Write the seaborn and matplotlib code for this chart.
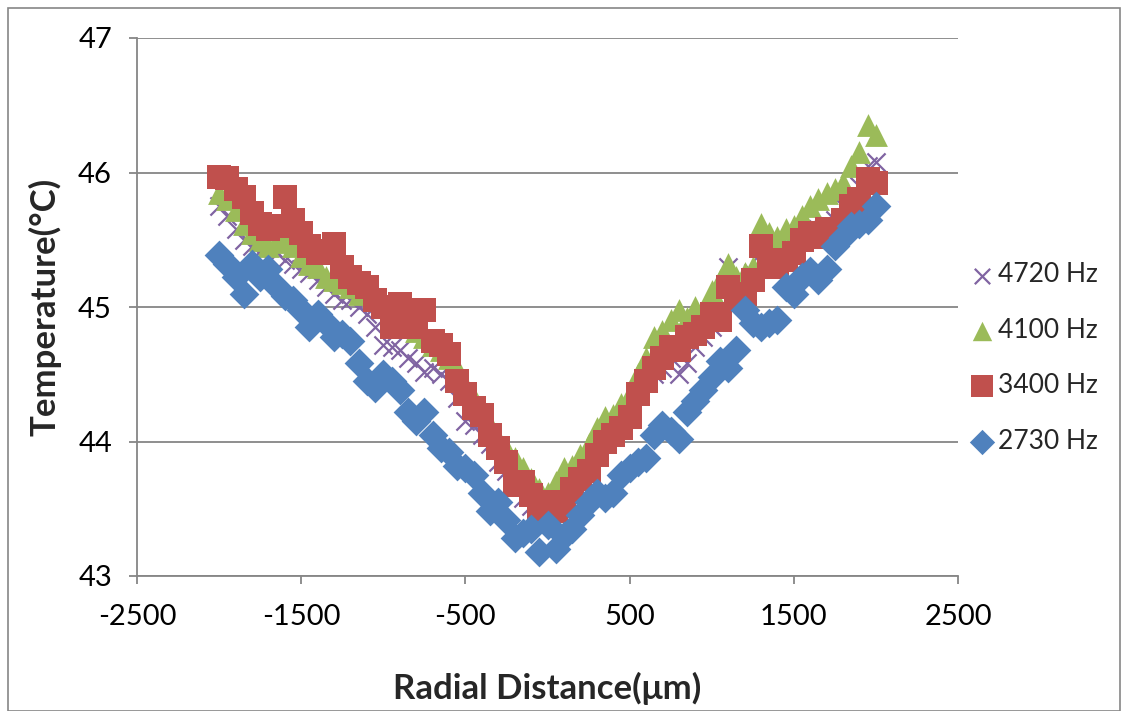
import numpy as np
import pandas as pd
import matplotlib
matplotlib.use("Agg")
import matplotlib.pyplot as plt
import seaborn as sns
from matplotlib.patches import Rectangle

# radial positions (µm)
radial = list(range(-2000, 2001, 50))

t_4720 = [45.75, 45.68, 45.58, 45.50, 45.45, 45.42, 45.38, 45.40, 45.35, 45.32,
          45.28, 45.25, 45.20, 45.15, 45.10, 45.05, 45.05, 45.00, 44.95, 44.85,
          44.72, 44.70, 44.68, 44.62, 44.58, 44.52, 44.55, 44.50, 44.45, 44.32,
          44.15, 44.12, 44.05, 43.98, 43.85, 43.78, 43.70, 43.58, 43.52, 43.45,
          43.50, 43.55, 43.62, 43.70, 43.75, 43.82, 43.95, 44.00, 44.05, 44.10,
          44.20, 44.35, 44.48, 44.50, 44.55, 44.62, 44.50, 44.58, 44.70, 44.78,
          44.85, 45.00, 45.30, 45.10, 45.15, 45.25, 45.40, 45.45, 45.35, 45.48,
          45.42, 45.55, 45.60, 45.58, 45.62, 45.65, 45.75, 45.80, 45.90, 46.05,
          46.08]

t_4100 = [45.85, 45.80, 45.72, 45.62, 45.55, 45.50, 45.45, 45.50, 45.48, 45.45,
          45.38, 45.32, 45.30, 45.22, 45.20, 45.18, 45.15, 45.10, 45.12, 45.05,
          45.02, 44.95, 44.95, 44.88, 44.82, 44.78, 44.72, 44.68, 44.62, 44.55,
          44.42, 44.32, 44.22, 44.12, 44.02, 43.95, 43.88, 43.80, 43.72, 43.65,
          43.62, 43.70, 43.80, 43.82, 43.90, 43.98, 44.10, 44.18, 44.20, 44.28,
          44.35, 44.50, 44.62, 44.78, 44.82, 44.90, 44.98, 44.92, 45.00, 44.95,
          45.12, 45.20, 45.32, 45.22, 45.25, 45.30, 45.62, 45.55, 45.52, 45.58,
          45.60, 45.68, 45.75, 45.80, 45.85, 45.88, 45.92, 46.05, 46.15, 46.35,
          46.28]

t_3400 = [45.97, 45.96, 45.88, 45.82, 45.70, 45.62, 45.58, 45.60, 45.82, 45.65,
          45.55, 45.45, 45.40, 45.42, 45.47, 45.30, 45.22, 45.18, 45.15, 45.05,
          45.00, 44.85, 45.02, 44.92, 44.85, 44.98, 44.75, 44.72, 44.65, 44.45,
          44.35, 44.25, 44.20, 44.05, 43.95, 43.85, 43.68, 43.70, 43.60, 43.50,
          43.55, 43.48, 43.55, 43.65, 43.72, 43.78, 43.90, 44.00, 44.05, 44.10,
          44.18, 44.35, 44.45, 44.55, 44.62, 44.70, 44.68, 44.78, 44.80, 44.85,
          44.95, 44.90, 45.15, 45.05, 45.10, 45.20, 45.45, 45.35, 45.30, 45.35,
          45.40, 45.50, 45.55, 45.52, 45.58, 45.55, 45.65, 45.75, 45.80, 45.95,
          45.92]

t_2730 = [45.39, 45.32, 45.22, 45.10, 45.32, 45.22, 45.28, 45.15, 45.08, 45.05,
          44.98, 44.85, 44.95, 44.88, 44.78, 44.80, 44.75, 44.58, 44.45, 44.40,
          44.50, 44.45, 44.38, 44.22, 44.15, 44.22, 44.05, 43.95, 43.92, 43.82,
          43.80, 43.75, 43.62, 43.48, 43.55, 43.42, 43.28, 43.32, 43.35, 43.18,
          43.38, 43.20, 43.30, 43.35, 43.45, 43.55, 43.62, 43.58, 43.62, 43.75,
          43.80, 43.85, 43.88, 44.05, 44.12, 44.08, 44.02, 44.22, 44.30, 44.38,
          44.48, 44.60, 44.55, 44.68, 44.98, 44.88, 44.85, 44.88, 44.90, 45.15,
          45.10, 45.22, 45.27, 45.20, 45.28, 45.45, 45.52, 45.60, 45.62, 45.65,
          45.75]

labels = ["4720 Hz", "4100 Hz", "3400 Hz", "2730 Hz"]
x_ticks = [-2500, -1500, -500, 500, 1500, 2500]
y_ticks = [43, 44, 45, 46, 47]

series = [t_4720, t_4100, t_3400, t_2730]
colors = ["#8064A2", "#9BBB59", "#C0504D", "#4F81BD"]
markers = ["x", "^", "s", "D"]
sizes = [170, 270, 320, 230]

sns.set_theme(style="white")
plt.rcParams["font.family"] = ["Lato", "DejaVu Sans"]

fig = plt.figure(figsize=(11.22, 7.11), dpi=100)
ax = fig.add_axes([137 / 1122, 1 - 576 / 711, (958 - 137) / 1122, (576 - 38) / 711])

for lab, vals, c, m, s in zip(labels, series, colors, markers, sizes):
    df = pd.DataFrame({"x": radial, "y": vals})
    if m == "x":
        sns.scatterplot(data=df, x="x", y="y", marker=m, color=c, s=s,
                        linewidth=1.6, ax=ax, label=lab, zorder=3)
    else:
        sns.scatterplot(data=df, x="x", y="y", marker=m, color=c, s=s,
                        linewidth=0, ax=ax, label=lab, zorder=3)

ax.set_xlim(-2500, 2500)
ax.set_ylim(43, 47)
ax.set_xticks(x_ticks)
ax.set_yticks(y_ticks)
ax.set_xticklabels([str(v) for v in x_ticks])
ax.set_yticklabels([str(v) for v in y_ticks])
ax.yaxis.grid(True, color="#868686", linewidth=1.3)
ax.set_axisbelow(True)
for sp in ["top", "right"]:
    ax.spines[sp].set_visible(False)
for sp in ["left", "bottom"]:
    ax.spines[sp].set_color("#868686")
    ax.spines[sp].set_linewidth(1.3)
ax.tick_params(axis="both", which="major", labelsize=21, colors="#868686",
               labelcolor="black", length=6, width=1.3, direction="out",
               bottom=True, left=True)
ax.tick_params(axis="x", pad=14)
ax.tick_params(axis="y", pad=12)

ax.set_xlabel("Radial Distance(μm)", fontsize=25, fontweight="bold", labelpad=30)
ax.set_ylabel("Temperature(°C)", fontsize=25, fontweight="bold", labelpad=12)

ax.legend(loc="center left", bbox_to_anchor=(0.862, 1 - 358 / 711),
          bbox_transform=fig.transFigure, frameon=False, fontsize=19,
          labelspacing=1.15, handletextpad=0.05, handlelength=1.1,
          markerscale=0.85, borderaxespad=0, borderpad=0)

fig.patches.append(Rectangle((8 / 1122, 0), 1 - 10 / 1122, 1 - 8 / 711,
                             transform=fig.transFigure, fill=False,
                             edgecolor="#868686", linewidth=1.2))

fig.savefig("out.png", dpi=100)
